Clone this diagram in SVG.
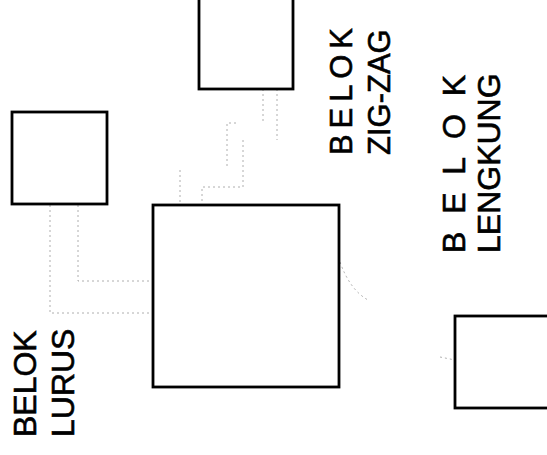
<svg xmlns="http://www.w3.org/2000/svg" width="547" height="455" viewBox="0 0 547 455">
<style>
.box{fill:#fff;stroke:#000;stroke-width:2.8}
.lbl{font-family:"Liberation Sans",Arial,sans-serif;font-size:32px;fill:#000;stroke:#000;stroke-width:0.6}
.con{fill:none;stroke:#9a9a9a;stroke-width:0.8;stroke-dasharray:2 3}
</style>
<rect width="547" height="455" fill="#fff"/>
<g id="connectors">
<polyline class="con" points="50,205 50,313 153,313"/>
<polyline class="con" points="78,205 78,281 153,281"/>
<polyline class="con" points="263,89 263,122"/>
<polyline class="con" points="277,89 277,140"/>
<polyline class="con" points="236,123 227,123 227,167"/>
<polyline class="con" points="243,140 243,187 202,187 202,205"/>
<polyline class="con" points="180,170 180,205"/>
<path class="con" d="M340,262 Q350,290 368,300"/>
<path class="con" d="M440,357 L455,360"/>
</g>
<g id="node-zigzag-box"><rect class="box" x="199" y="-5" width="94" height="94"/></g>
<g id="node-lurus-box"><rect class="box" x="12" y="112" width="95" height="92"/></g>
<g id="node-center-box"><rect class="box" x="153" y="205" width="186" height="182"/></g>
<g id="node-lengkung-box"><rect class="box" x="455" y="316" width="95" height="92"/></g>
<g id="label-lurus">
<text class="lbl" transform="translate(36,437) rotate(-90)">BELOK</text>
<text class="lbl" transform="translate(74,437) rotate(-90)">LURUS</text>
</g>
<g id="label-zigzag">
<text class="lbl" style="font-size:31px" transform="translate(352,155) rotate(-90)" textLength="127" lengthAdjust="spacing">BELOK</text>
<text class="lbl" style="font-size:31px" transform="translate(390,155) rotate(-90)">ZIG-ZAG</text>
</g>
<g id="label-lengkung">
<text class="lbl" transform="translate(465,253) rotate(-90)" textLength="178" lengthAdjust="spacing">BELOK</text>
<text class="lbl" transform="translate(500,253) rotate(-90)">LENGKUNG</text>
</g>
</svg>
